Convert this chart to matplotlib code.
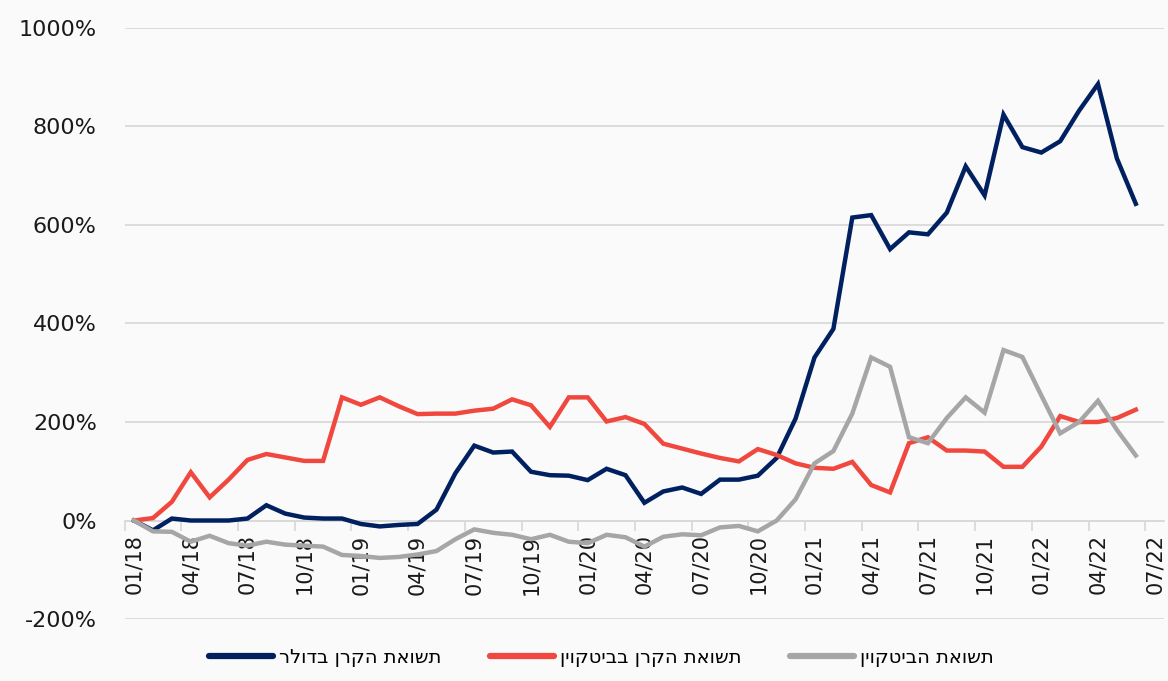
import matplotlib.pyplot as plt
import numpy as np
from matplotlib.lines import Line2D

# חודשים 01/18 .. 07/22 (הקטגוריה האחרונה ריקה)
months = [f"{m:02d}/{y}" for y in range(18, 23) for m in range(1, 13)][:55]

usd_fund = [0, -20, 4, 0, 0, 0, 4, 31, 14, 6, 4, 4, -7, -12, -9, -7, 22, 96, 152, 138,
            140, 99, 92, 91, 82, 105, 92, 36, 59, 67, 54, 83, 83, 91, 127, 207, 331, 389,
            615, 620, 551, 585, 581, 625, 719, 660, 824, 758, 747, 770, 832, 886, 735, 643]
btc_fund = [0, 5, 38, 98, 47, 83, 123, 135, 128, 121, 121, 250, 235, 250, 232, 216, 217,
            217, 223, 227, 246, 234, 190, 250, 250, 201, 210, 196, 156, 146, 136, 127, 120,
            145, 133, 116, 107, 105, 119, 72, 57, 157, 169, 142, 142, 140, 109, 109, 150,
            212, 200, 200, 208, 225]
btc = [0, -22, -23, -43, -31, -46, -51, -43, -49, -51, -53, -70, -72, -76, -74, -69, -62,
       -38, -18, -25, -29, -38, -29, -43, -46, -29, -34, -53, -33, -28, -30, -14, -11, -22,
       0, 43, 116, 141, 217, 331, 312, 169, 157, 208, 250, 219, 346, 332, 254, 177, 200,
       243, 184, 132]

labels = ["תשואת הקרן בדולר", "תשואת הקרן בביטקוין", "תשואת הביטקוין"]
colors = ["#002060", "#f0483e", "#a6a6a6"]

bg = "#fafafa"
fig = plt.figure(figsize=(11.68, 6.81), dpi=100, facecolor=bg)
ax = fig.add_axes([0.1067, 0.091, 0.89, 0.868], facecolor=bg)

x = np.arange(len(usd_fund))
for ser, c in zip([usd_fund, btc_fund, btc], colors):
    ax.plot(x, ser, color=c, lw=3.2, solid_joinstyle='miter', zorder=3)

ax.set_xlim(-0.5, len(months) - 0.5)
ax.set_ylim(-200, 1000)
ax.set_yticks(np.arange(-200, 1001, 200))
ax.set_yticklabels([f"{v}%" for v in range(-200, 1001, 200)], fontsize=16, color="#1a1a1a")
ax.tick_params(axis='y', length=0, pad=20)
ax.grid(axis='y', color='#d9d9d9', lw=1.3, zorder=0)

# x axis at 0 with labels at category centres, ticks at boundaries
ax.spines['bottom'].set_position(('data', 0))
ax.spines['bottom'].set_color('#d9d9d9')
ax.spines['bottom'].set_linewidth(1.3)
for s in ['top', 'right', 'left']:
    ax.spines[s].set_visible(False)
ax.set_xticks(np.arange(0, len(months), 3))
ax.set_xticklabels(months[::3], rotation=90, fontsize=15, color="#1a1a1a", va='top')
ax.set_xticks(np.arange(-0.5, len(months), 3), minor=True)
ax.tick_params(axis='x', which='major', length=0, pad=10)
ax.tick_params(axis='x', which='minor', length=7, color='#d9d9d9', width=1.3)

handles = [Line2D([], [], color=c, lw=4.5, solid_capstyle='round') for c in colors]
fig.legend(handles, [l[::-1] for l in labels], loc='lower center', bbox_to_anchor=(0.515, -0.005),
           ncol=3, frameon=False, fontsize=14, handlelength=3.3, handletextpad=0.3,
           columnspacing=2.5)

fig.savefig("out.png", dpi=100, facecolor=bg)
